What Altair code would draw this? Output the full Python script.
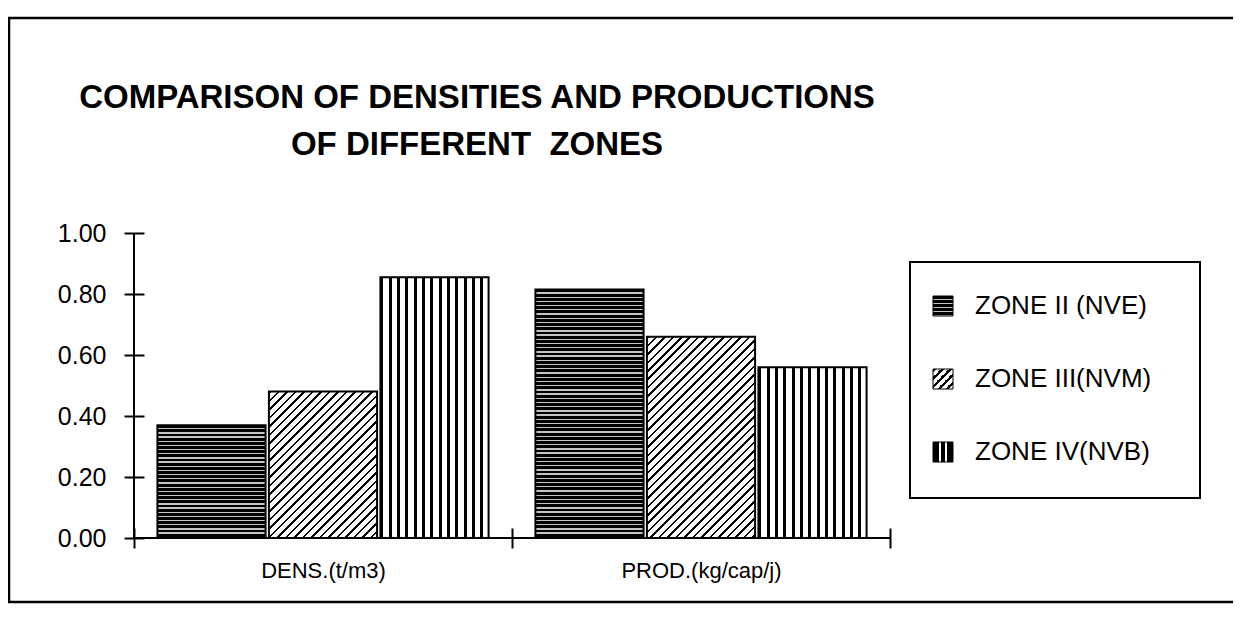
import math
import altair as alt
import pandas as pd

# ---------------- data ----------------
categories = ["DENS.(t/m3)", "PROD.(kg/cap/j)"]
zones = ["ZONE II (NVE)", "ZONE III(NVM)", "ZONE IV(NVB)"]
dens_values = [0.37, 0.48, 0.855]
prod_values = [0.815, 0.66, 0.56]
y_ticks = [0.0, 0.2, 0.4, 0.6, 0.8, 1.0]
title_lines = ["COMPARISON OF DENSITIES AND PRODUCTIONS", "OF DIFFERENT\u00a0 ZONES"]

rows = []
for cat, vals in zip(categories, [dens_values, prod_values]):
    for z, v in zip(zones, vals):
        rows.append({"category": cat, "zone": z, "value": v})
df = pd.DataFrame(rows)
legend_df = pd.DataFrame({"zone": zones})
one = pd.DataFrame({"k": [0]})

FONT = "Liberation Sans"
W, H = 756, 305
OFF_PAD_IN, OFF_PAD_OUT = 0.03, 0.21


# ---------------- hatch patterns as hard-stop gradients ----------------
def stripes(n, dark_frac, x2, y2, dark="#000000", light="#ffffff"):
    n = max(int(n), 1)
    stops = []
    for i in range(n):
        a = i / n
        b = (i + dark_frac) / n
        c = (i + 1) / n
        stops += [
            {"offset": a, "color": dark},
            {"offset": b, "color": dark},
            {"offset": b, "color": light},
            {"offset": c, "color": light},
        ]
    return {"gradient": "linear", "x1": 0, "y1": 0, "x2": x2, "y2": y2, "stops": stops}


def bands(seq, x2, y2):
    stops = []
    for a, b, col in seq:
        stops += [{"offset": a, "color": col}, {"offset": b, "color": col}]
    return {"gradient": "linear", "x1": 0, "y1": 0, "x2": x2, "y2": y2, "stops": stops}


# pixel size of one bar (for pattern density only)
band_step = W / len(categories)
bar_w = band_step / (len(zones) - OFF_PAD_IN + 2 * OFF_PAD_OUT) * (1 - OFF_PAD_IN)


def pattern_for(zone_idx, h):
    if zone_idx == 0:   # dark stipple
        return stripes(round(h / 4.2), 0.68, 0, 1, light="#c4c4c4")
    if zone_idx == 1:   # 45 degree hatch
        r = h / bar_w
        n = (bar_w + h) / (math.sqrt(2) * 6.0) * (1 + r * r) / (1 + r)
        return stripes(round(n), 0.3, 1, r)
    return stripes(13, 0.36, 1, 0)  # vertical stripes


bar_fill = None
for cat, vals in zip(categories, [dens_values, prod_values]):
    for zi, (z, v) in enumerate(zip(zones, vals)):
        pred = (alt.datum.zone == z) & (alt.datum.category == cat)
        g = alt.value(pattern_for(zi, v * H))
        bar_fill = alt.when(pred).then(g) if bar_fill is None else bar_fill.when(pred).then(g)
bar_fill = bar_fill.otherwise(alt.value("#ffffff"))

lg_dots = stripes(5, 0.66, 0, 1, light="#c4c4c4")
lg_diag = stripes(5, 0.45, 1, 1)
lg_vert = bands([(0, 0.28, "#000"), (0.28, 0.42, "#fff"), (0.42, 0.58, "#000"),
                 (0.58, 0.72, "#fff"), (0.72, 1, "#000")], 1, 0)
leg_fill = (alt.when(alt.datum.zone == zones[0]).then(alt.value(lg_dots))
            .when(alt.datum.zone == zones[1]).then(alt.value(lg_diag))
            .otherwise(alt.value(lg_vert)))

# ---------------- main plot ----------------
bars = alt.Chart(df).mark_bar(stroke="black", strokeWidth=2).encode(
    x=alt.X("category:N", sort=categories,
            scale=alt.Scale(paddingInner=0, paddingOuter=0),
            axis=alt.Axis(title=None, labelAngle=0, domain=False, tickBand="extent",
                          tickSize=20, offset=-10, labelPadding=12, labelFontSize=22,
                          labelFont=FONT, labelColor="black", tickColor="black",
                          tickWidth=2, grid=False)),
    xOffset=alt.XOffset("zone:N", sort=zones,
                        scale=alt.Scale(paddingInner=OFF_PAD_IN, paddingOuter=OFF_PAD_OUT)),
    y=alt.Y("value:Q", scale=alt.Scale(domain=[0, 1], nice=False),
            axis=alt.Axis(title=None, values=y_ticks, format=".2f", domain=False,
                          tickSize=20, offset=-10, labelPadding=18, labelFontSize=25,
                          labelFont=FONT, labelColor="black", tickColor="black",
                          tickWidth=2, grid=False)),
    fill=bar_fill,
)

yrule = alt.Chart(one).mark_rule(color="black", strokeWidth=2).encode(
    x=alt.value(0), y=alt.datum(0), y2=alt.datum(1))
xrule = alt.Chart(one).mark_rule(color="black", strokeWidth=2).encode(
    y=alt.datum(0), x=alt.value(0), x2=alt.value(W))

frame = alt.Chart(one).mark_rect(fillOpacity=0, stroke="black", strokeWidth=2.5).encode(
    x=alt.value(-125), x2=alt.value(1300), y=alt.value(-215), y2=alt.value(369))

title = alt.Chart(one).mark_text(align="center", baseline="alphabetic", fontSize=33,
                                 font=FONT, fontWeight="bold", color="black",
                                 lineHeight=47).encode(
    x=alt.value(343), y=alt.value(-125), text=alt.value(title_lines))

main = alt.layer(frame, title, bars, yrule, xrule)

# ---------------- legend ----------------
leg_y = alt.Y("zone:N", sort=zones, axis=None, scale=alt.Scale(range=[73, 219], padding=0))
legend_box = alt.Chart(one).mark_rect(fillOpacity=0, stroke="black", strokeWidth=2).encode(
    x=alt.value(776), x2=alt.value(1066), y=alt.value(29), y2=alt.value(265))
legend_sym = alt.Chart(legend_df).mark_square(size=400, stroke="black", strokeWidth=1,
                                              opacity=1).encode(
    x=alt.value(809), y=leg_y, fill=leg_fill)
legend_text = alt.Chart(legend_df).mark_text(align="left", baseline="middle", fontSize=26,
                                             font=FONT, color="black").encode(
    x=alt.value(841), y=leg_y, text="zone:N")
legend = alt.layer(legend_box, legend_sym, legend_text)

chart = alt.layer(main, legend).resolve_scale(y="independent").properties(
    width=W, height=H,
    padding={"left": 126, "top": 225, "right": 343, "bottom": 70},
    autosize=alt.AutoSizeParams(type="none"),
).configure_view(stroke=None)

chart.save("out.html", embed_options={"renderer": "svg", "actions": False})
